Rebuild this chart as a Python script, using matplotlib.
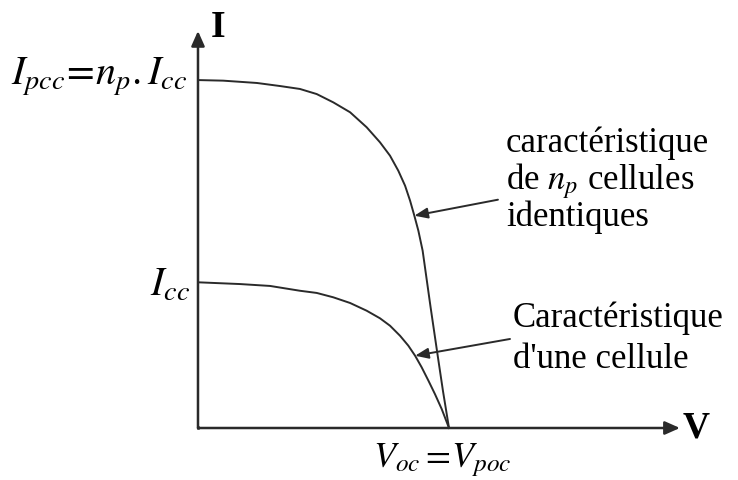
import matplotlib
matplotlib.use("Agg")
import matplotlib.pyplot as plt

plt.rcParams['font.family'] = ['Liberation Serif', 'DejaVu Serif']
plt.rcParams['mathtext.fontset'] = 'stix'

# I-V characteristic (V normalised to Voc, I to Icc)
v_cell = [0.0, 0.167, 0.287, 0.406, 0.473, 0.539, 0.606, 0.672, 0.725, 0.765,
          0.805, 0.838, 0.865, 0.891, 0.918, 0.944, 0.971, 1.0]
i_cell = [1.0, 0.988, 0.975, 0.942, 0.927, 0.897, 0.858, 0.805, 0.753, 0.702,
          0.633, 0.565, 0.496, 0.417, 0.325, 0.233, 0.130, 0.0]

v_panel = [0.0, 0.100, 0.235, 0.327, 0.406, 0.473, 0.539, 0.606, 0.672, 0.725,
           0.765, 0.798, 0.825, 0.845, 0.862, 0.878, 0.895, 0.926, 0.954, 0.976, 1.0]
i_panel = [2.388, 2.384, 2.368, 2.347, 2.327, 2.292, 2.235, 2.167, 2.064, 1.961,
           1.869, 1.766, 1.663, 1.560, 1.457, 1.354, 1.217, 0.837, 0.508, 0.254, 0.0]

line_col = '#2a2a2a'

fig = plt.figure(figsize=(7.38, 4.81), dpi=100)
ax = fig.add_axes([0, 0, 1, 1])
ax.set_xlim(-0.7888, 2.1514)
ax.set_ylim(-0.3569, 2.9444)
ax.axis('off')

# axes with arrow heads
axis_arrow = dict(arrowstyle='-|>,head_length=0.45,head_width=0.2', color=line_col,
                  lw=1.8, mutation_scale=20, shrinkA=0, shrinkB=0)
ax.annotate('', xy=(0, 2.725), xytext=(0, 0), arrowprops=axis_arrow)
ax.annotate('', xy=(1.920, 0), xytext=(0, 0), arrowprops=axis_arrow)
ax.plot([0, 0], [0, 0.01], color=line_col, lw=1.8, solid_capstyle='projecting')

ax.plot(v_panel, i_panel, color=line_col, lw=1.4)
ax.plot(v_cell, i_cell, color=line_col, lw=1.4)

# pointers to each curve
ptr = dict(arrowstyle='-|>,head_length=0.5,head_width=0.2', color=line_col,
           lw=1.4, mutation_scale=16, shrinkA=0, shrinkB=0)
ax.annotate('', xy=(v_panel[14], i_panel[14]), xytext=(1.195, 1.567), arrowprops=ptr)
ax.annotate('', xy=(v_cell[12], i_cell[12]), xytext=(1.243, 0.611), arrowprops=ptr)

ax.text(0.052, 2.690, 'I', fontsize=27, fontweight='bold', ha='left', va='baseline')
ax.text(1.932, -0.055, 'V', fontsize=27, fontweight='bold', ha='left', va='baseline')

ax.text(-0.044, 2.361, r'$I_{pcc}\!=\!n_p.I_{cc}$', fontsize=29, ha='right', va='baseline')
ax.text(-0.032, 0.913, r'$I_{cc}$', fontsize=29, ha='right', va='baseline')
ax.text(0.697, -0.261, r'$V_{oc}=\!V_{poc}$', fontsize=26, ha='left', va='baseline')

for txt, y in [('caractéristique', 1.898), (r'de $n_p$ cellules', 1.647), ('identiques', 1.393)]:
    ax.text(1.227, y, txt, fontsize=25, ha='left', va='baseline')
for txt, y in [('Caractéristique', 0.702), ("d'une cellule", 0.422)]:
    ax.text(1.255, y, txt, fontsize=25, ha='left', va='baseline')

fig.savefig('out.png', dpi=100)
